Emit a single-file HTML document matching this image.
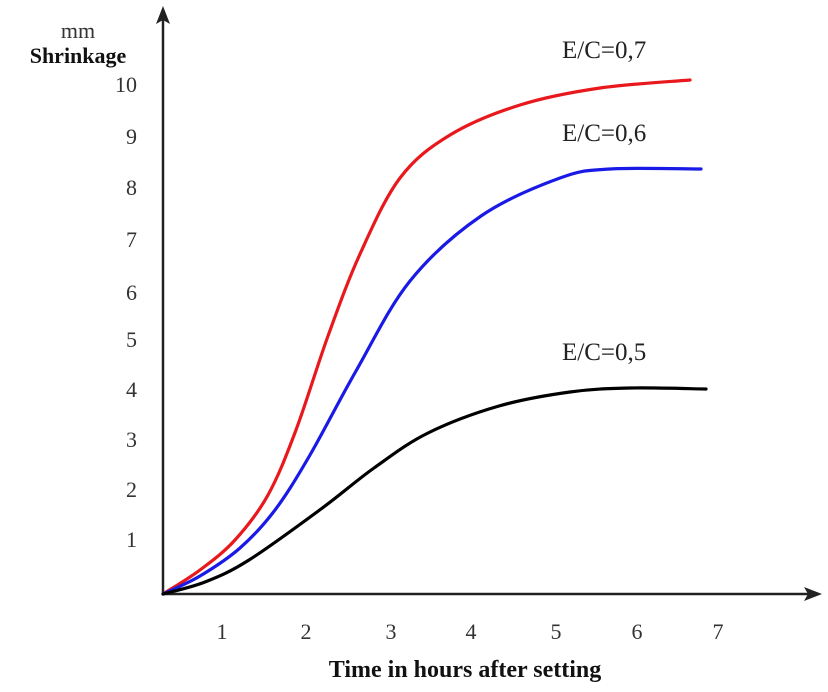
<!DOCTYPE html>
<html><head><meta charset="utf-8"><style>
html,body{margin:0;padding:0;background:#fff}
svg{display:block}
text{font-family:"Liberation Serif",serif}
</style></head><body>
<svg width="828" height="692" viewBox="0 0 828 692" xmlns="http://www.w3.org/2000/svg">
<g stroke="#222" stroke-width="2.5" fill="none">
<line x1="163" y1="594" x2="163" y2="14"/>
<line x1="162" y1="594" x2="812" y2="594"/>
</g>
<polygon points="163,6 156,24 163,20 170,24" fill="#222"/>
<polygon points="822,594 804,587 808,594 804,601" fill="#222"/>
<text x="78" y="38" font-size="22" fill="#333" text-anchor="middle">mm</text>
<text x="78" y="63" font-size="22" font-weight="bold" fill="#111" text-anchor="middle">Shrinkage</text>
<g font-size="22" fill="#333" text-anchor="end">
<text x="137" y="92">10</text><text x="137" y="144">9</text><text x="137" y="195">8</text>
<text x="137" y="247">7</text><text x="137" y="300">6</text><text x="137" y="347">5</text>
<text x="137" y="397">4</text><text x="137" y="447">3</text><text x="137" y="497">2</text>
<text x="137" y="547">1</text>
</g>
<g font-size="22" fill="#333" text-anchor="middle">
<text x="222" y="639">1</text><text x="306" y="639">2</text><text x="391" y="639">3</text>
<text x="471" y="639">4</text><text x="556" y="639">5</text><text x="637" y="639">6</text>
<text x="718" y="639">7</text>
</g>
<text x="465" y="677" font-size="24" font-weight="bold" fill="#111" text-anchor="middle">Time in hours after setting</text>
<g font-size="25" fill="#222">
<text x="562" y="58">E/C=0,7</text>
<text x="562" y="141">E/C=0,6</text>
<text x="562" y="360">E/C=0,5</text>
</g>
<g fill="none" stroke-width="3.2" stroke-linecap="round">
<path id="r" stroke="#e8181c"/>
<path id="b" stroke="#1a1ae6"/>
<path id="k" stroke="#000"/>
</g>
</svg>
<script>
function cr(p){var d="M"+p[0][0]+","+p[0][1];for(var i=0;i<p.length-1;i++){var a=p[i-1]||p[i],b=p[i],c=p[i+1],e=p[i+2]||c;
d+=" C"+(b[0]+(c[0]-a[0])/6)+","+(b[1]+(c[1]-a[1])/6)+" "+(c[0]-(e[0]-b[0])/6)+","+(c[1]-(e[1]-b[1])/6)+" "+c[0]+","+c[1];}return d;}
document.getElementById("r").setAttribute("d",cr([[163,594],[200,570],[235,540],[268,495],[296,430],[328,336],[360,254],[400,178],[450,135],[520,105],[600,88],[690,80]]));
document.getElementById("b").setAttribute("d",cr([[163,594],[200,576],[240,548],[275,510],[310,455],[356,371],[410,281],[481,216],[560,178],[610,169],[701,169]]));
document.getElementById("k").setAttribute("d",cr([[163,594],[205,582],[249,560],[321,509],[374,468],[428,433],[499,406],[570,392],[630,388],[706,389]]));
</script>
</body></html>
